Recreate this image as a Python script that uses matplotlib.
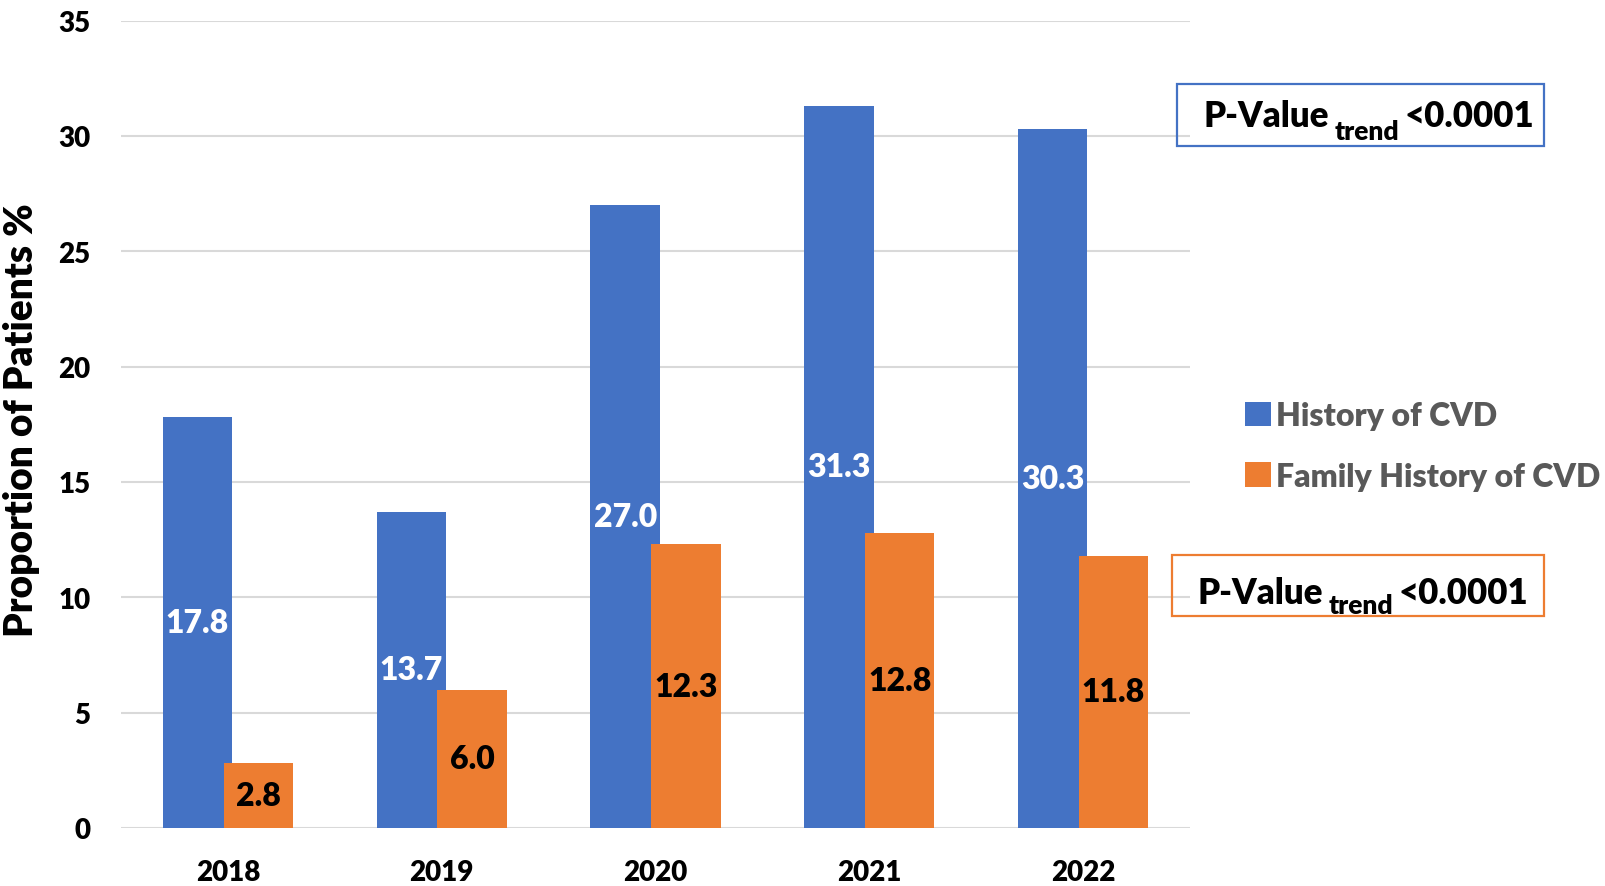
import numpy as np
import matplotlib
matplotlib.use("Agg")
import matplotlib.pyplot as plt
from matplotlib.patches import Rectangle, Patch

plt.rcParams['font.family'] = ['Lato', 'DejaVu Sans']
WEIGHT = 'heavy'

years = ['2018', '2019', '2020', '2021', '2022']
history_cvd = [17.8, 13.7, 27.0, 31.3, 30.3]
family_history_cvd = [2.8, 6.0, 12.3, 12.8, 11.8]
series_names = ['History of CVD', 'Family History of CVD']
pvalue_text = ['P-Value', 'trend', '<0.0001']

BLUE = '#4472C4'
ORANGE = '#ED7D31'
W, H = 1605, 887

fig = plt.figure(figsize=(W / 100, H / 100), dpi=100)
ax = fig.add_axes([121 / W, 1 - 829 / H, (1190 - 121) / W, (829 - 21.5) / H])

x = np.arange(len(years))
width = 0.325
offset = 0.142
b1 = ax.bar(x - offset, history_cvd, width, color=BLUE, zorder=2)
b2 = ax.bar(x + offset, family_history_cvd, width, color=ORANGE, zorder=3)

for rect, v in zip(b1, history_cvd):
    ax.text(rect.get_x() + rect.get_width() / 2, v / 2, f"{v:.1f}",
            ha='center', va='center', color='white', fontsize=23,
            fontweight=WEIGHT, zorder=4)
for rect, v in zip(b2, family_history_cvd):
    ax.text(rect.get_x() + rect.get_width() / 2, v / 2, f"{v:.1f}",
            ha='center', va='center', color='black', fontsize=23,
            fontweight=WEIGHT, zorder=4)

ax.set_xlim(-0.5, len(years) - 0.5)
ax.set_ylim(0, 35)
ax.set_yticks(np.arange(0, 36, 5))
ax.set_xticks(x)
ax.set_xticklabels(years)
ax.yaxis.grid(True, color='#d9d9d9', linewidth=1.5, zorder=0)
ax.set_axisbelow(True)
for s in ax.spines.values():
    s.set_visible(False)
ax.tick_params(axis='both', length=0, labelsize=20)
ax.tick_params(axis='y', pad=22)
ax.tick_params(axis='x', pad=22)
for lbl in ax.get_xticklabels() + ax.get_yticklabels():
    lbl.set_fontweight(WEIGHT)
ax.set_ylabel('Proportion of Patients %', fontsize=28, fontweight=WEIGHT)
ax.yaxis.label.set_va('center')
ax.yaxis.set_label_coords((22 - 121) / (1190 - 121), 0.506)

# legend
handles = [Patch(facecolor=BLUE), Patch(facecolor=ORANGE)]
leg = fig.legend(handles, series_names, loc='center left',
                 bbox_to_anchor=(1245 / W, 1 - 447 / H), frameon=False,
                 fontsize=23, handlelength=0.82, handleheight=0.82,
                 handletextpad=0.15, labelspacing=1.0, borderpad=0,
                 borderaxespad=0)
for t in leg.get_texts():
    t.set_color('#595959')
    t.set_fontweight(WEIGHT)

renderer = fig.canvas.get_renderer()


def pvalue_box(x0, y0, x1, y1, color, tx, base, sub_drop):
    fig.patches.append(Rectangle((x0 / W, 1 - y1 / H), (x1 - x0) / W, (y1 - y0) / H,
                                 transform=fig.transFigure, fill=False,
                                 edgecolor=color, linewidth=1.6))
    t1 = fig.text(tx / W, 1 - base / H, pvalue_text[0], fontsize=25,
                  fontweight=WEIGHT, va='baseline', ha='left')
    e1 = t1.get_window_extent(renderer)
    t2 = fig.text((e1.x1 + 6) / W, 1 - (base + sub_drop) / H, pvalue_text[1],
                  fontsize=19, fontweight=WEIGHT, va='baseline', ha='left')
    e2 = t2.get_window_extent(renderer)
    fig.text((e2.x1 + 5) / W, 1 - base / H, pvalue_text[2], fontsize=25,
             fontweight=WEIGHT, va='baseline', ha='left')


pvalue_box(1177, 85, 1544, 147, BLUE, 1203, 127, 13)
pvalue_box(1172, 556, 1544, 617, ORANGE, 1197, 604, 10)

fig.savefig('out.png', dpi=100)
